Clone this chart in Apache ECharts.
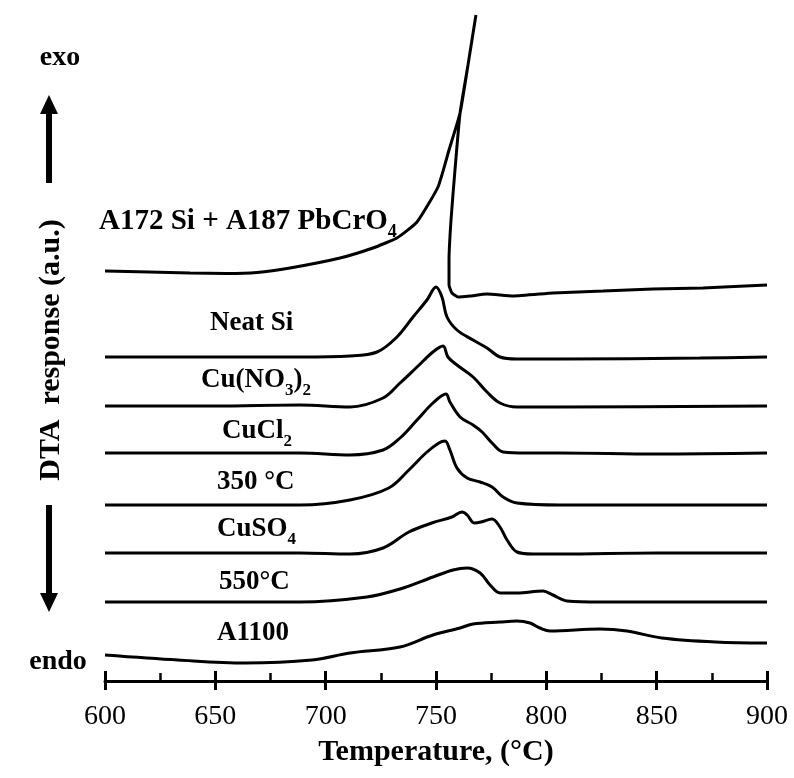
<!DOCTYPE html>
<html>
<head>
<meta charset="utf-8">
<script src="https://cdn.jsdelivr.net/npm/echarts@6/dist/echarts.min.js"></script>
<style>html,body{margin:0;padding:0;background:#fff}#c{width:794px;height:778px}</style>
</head>
<body>
<div id="c"></div>
<script>
// x tick labels
const xTicks = [600, 650, 700, 750, 800, 850, 900];
// curve names (drawn as text labels)
const names = ["A172 Si + A187 PbCrO4", "Neat Si", "Cu(NO3)2", "CuCl2", "350 °C", "CuSO4", "550°C", "A1100"];
// vertical stacking offsets of each curve (a.u.)
const offsets = [41.0, 32.4, 27.5, 22.8, 17.6, 12.8, 7.9, 2.6];

// temperatures (°C) and DTA response (a.u., relative to each curve's start)
const tA172 = [600, 620, 638.5, 655, 668.9, 683.8, 706.5, 721.4, 732.3, 741.4, 750.9, 755.9, 760.9, 764.5, 768.1, 764.5, 760.9, 758.6, 756.8, 755.9, 755.9, 757.2, 760.0, 765.4, 773.1, 784.9, 803.0, 825.7, 848.3, 871.0, 900];
const rA172 = [0, -0.1, -0.2, -0.25, -0.15, 0.3, 1.3, 2.3, 3.3, 4.9, 8.4, 12.1, 15.8, 20.6, 25.6, 20.6, 15.8, 10.1, 5.1, 1.1, -1.4, -2.2, -2.6, -2.5, -2.3, -2.5, -2.2, -2.0, -1.8, -1.7, -1.4];

const tNeat = [600, 643.1, 688.4, 711.0, 723.3, 732.3, 739.6, 745.9, 750.0, 752.7, 755.0, 759.5, 766.8, 773.1, 779.0, 786.7, 806.2, 869.6, 900];
const rNeat = [0, 0, 0, 0.1, 0.5, 2.0, 4.0, 5.7, 7.0, 6.0, 4.0, 2.7, 1.7, 0.9, 0, -0.2, -0.2, -0.1, 0];

const tNO3 = [600, 650, 688.4, 711.0, 726.0, 733.7, 741.4, 748.6, 753.2, 755.4, 759.5, 766.8, 773.1, 779.0, 786.7, 806.2, 900];
const rNO3 = [0, 0, 0.1, -0.1, 0.8, 2.3, 3.9, 5.4, 6.0, 4.9, 4.1, 2.9, 1.4, 0.3, -0.1, -0.1, 0];

const tCl = [600, 688.4, 711.0, 726.0, 733.7, 741.4, 748.6, 754.5, 756.3, 760.9, 766.8, 770.9, 775.4, 780.4, 791.3, 806.2, 850, 900];
const rCl = [0, 0, -0.2, 0.3, 1.5, 3.3, 5.0, 5.9, 5.1, 3.6, 2.8, 2.1, 1.0, 0.1, 0, 0, -0.1, 0];

const t350 = [600, 688.4, 711.0, 728.6, 737.7, 745.4, 751.3, 754.1, 756.3, 759.5, 764.1, 770.0, 775.4, 780.4, 786.7, 806.2, 900];
const r350 = [0, 0, 0.5, 1.7, 3.5, 5.2, 6.2, 6.4, 5.5, 3.7, 2.7, 2.3, 1.8, 0.8, 0.2, 0, 0];

const tSO4 = [600, 688.4, 711.0, 726.0, 737.7, 748.1, 757.2, 761.8, 764.1, 767.3, 770.4, 775.4, 779.0, 782.2, 786.7, 794.0, 806.2, 850, 900];
const rSO4 = [0, 0, -0.1, 0.5, 2.1, 3.0, 3.6, 4.1, 3.8, 3.0, 3.1, 3.4, 2.6, 1.3, 0.1, -0.1, -0.1, 0, 0];

const t550 = [600, 688.4, 718.7, 733.7, 748.6, 757.7, 764.1, 770.0, 774.5, 779.0, 786.7, 798.5, 803.0, 809.4, 824.3, 900];
const r550 = [0, 0, 0.5, 1.3, 2.5, 3.2, 3.4, 2.9, 1.7, 0.9, 0.9, 1.1, 0.7, 0.1, 0, 0];

const tA1100 = [600, 633.1, 663.5, 693.8, 711.0, 733.7, 748.6, 760.9, 766.8, 779.0, 786.7, 792.6, 797.1, 801.7, 824.3, 836.5, 852.3, 876.7, 900];
const rA1100 = [0, -0.5, -0.8, -0.5, 0.2, 0.8, 2.0, 2.7, 3.1, 3.3, 3.4, 3.2, 2.7, 2.4, 2.6, 2.4, 1.7, 1.3, 1.2];

const curves = [[tA172, rA172], [tNeat, rNeat], [tNO3, rNO3], [tCl, rCl], [t350, r350], [tSO4, rSO4], [t550, r550], [tA1100, rA1100]];

const FONT = '"Liberation Serif", "Times New Roman", serif';

const series = curves.map(function (c, i) {
  return {
    type: 'line',
    name: names[i],
    xAxisIndex: 0,
    yAxisIndex: 0,
    showSymbol: false,
    smooth: i === 0 ? 0.15 : 0.35,
    silent: true,
    lineStyle: { color: '#000', width: 3, cap: 'butt' },
    data: c[0].map(function (t, k) { return [t, c[1][k] + offsets[i]]; })
  };
});

// label texts (rich text for subscripts)
function mk(size) {
  return {
    m: { fontSize: size, lineHeight: size, verticalAlign: 'top', fontWeight: 'bold', fontFamily: FONT, fill: '#000' },
    s: { fontSize: Math.round(size * 0.63), lineHeight: Math.round(size * 0.63), padding: [Math.round(size * 0.56), 0, 0, 0], verticalAlign: 'top', fontWeight: 'bold', fontFamily: FONT, fill: '#000' }
  };
}
function label(text, x, yTop, size) {
  return {
    type: 'text', x: x, y: yTop, silent: true,
    style: { text: text, x: 0, y: 0, align: 'left', verticalAlign: 'top', rich: mk(size) }
  };
}
const labelTexts = [
  '{m|A172 Si + A187 PbCrO}{s|4}',
  '{m|Neat Si}',
  '{m|Cu(NO}{s|3}{m|)}{s|2}',
  '{m|CuCl}{s|2}',
  '{m|350 °C}',
  '{m|CuSO}{s|4}',
  '{m|550°C}',
  '{m|A1100}'
];
const labelPos = [[99, 207, 29], [210, 310, 27], [201, 367, 27], [222, 418, 27], [217, 469, 27], [217, 516, 27], [219, 569, 27], [217, 620, 27]];

const graphics = labelTexts.map(function (t, i) { return label(t, labelPos[i][0], labelPos[i][1], labelPos[i][2]); });

graphics.push(
  { type: 'text', x: 60, y: 58, silent: true, style: { text: 'exo', align: 'center', verticalAlign: 'middle', fontSize: 28, fontWeight: 'bold', fontFamily: FONT, fill: '#000' } },
  { type: 'text', x: 58, y: 662, silent: true, style: { text: 'endo', align: 'center', verticalAlign: 'middle', fontSize: 28, fontWeight: 'bold', fontFamily: FONT, fill: '#000' } },
  { type: 'text', x: 51, y: 350, rotation: Math.PI / 2, silent: true, style: { text: 'DTA  response (a.u.)', align: 'center', verticalAlign: 'middle', fontSize: 30, fontWeight: 'bold', fontFamily: FONT, fill: '#000' } },
  // up arrow
  { type: 'rect', silent: true, shape: { x: 46, y: 110, width: 6, height: 73 }, style: { fill: '#000' } },
  { type: 'polygon', silent: true, shape: { points: [[49, 95], [58, 114], [40, 114]] }, style: { fill: '#000' } },
  // down arrow
  { type: 'rect', silent: true, shape: { x: 46, y: 505, width: 6, height: 92 }, style: { fill: '#000' } },
  { type: 'polygon', silent: true, shape: { points: [[49, 612], [58, 593], [40, 593]] }, style: { fill: '#000' } }
);

const chart = echarts.init(document.getElementById('c'), null, { renderer: 'canvas' });
chart.setOption({
  animation: false,
  backgroundColor: '#fff',
  grid: { left: 105, right: 27, top: 11, bottom: 97, containLabel: false },
  xAxis: [
    {
      type: 'value', min: xTicks[0], max: xTicks[xTicks.length - 1], interval: 50, position: 'bottom',
      axisLine: { show: true, lineStyle: { color: '#000', width: 3 } },
      axisTick: { show: true, inside: true, length: 10, lineStyle: { color: '#000', width: 3 } },
      minorTick: { show: true, splitNumber: 2, length: 8, lineStyle: { color: '#000', width: 2.5 } },
      axisLabel: { show: false },
      splitLine: { show: false }
    },
    {
      type: 'value', min: xTicks[0], max: xTicks[xTicks.length - 1], interval: 50, position: 'bottom', offset: 0,
      axisLine: { show: false },
      axisTick: { show: true, inside: false, length: 9, lineStyle: { color: '#000', width: 3 } },
      axisLabel: { show: true, margin: 22, fontSize: 28, color: '#000', fontFamily: FONT,
        formatter: function (v) { return xTicks.indexOf(v) >= 0 ? String(v) : ''; } },
      splitLine: { show: false },
      name: 'Temperature, (°C)', nameLocation: 'middle', nameGap: 56,
      nameTextStyle: { fontSize: 30, fontWeight: 'bold', color: '#000', fontFamily: FONT }
    }
  ],
  yAxis: { type: 'value', min: 0, max: 67, show: false },
  series: series,
  graphic: graphics
});
</script>
</body>
</html>
